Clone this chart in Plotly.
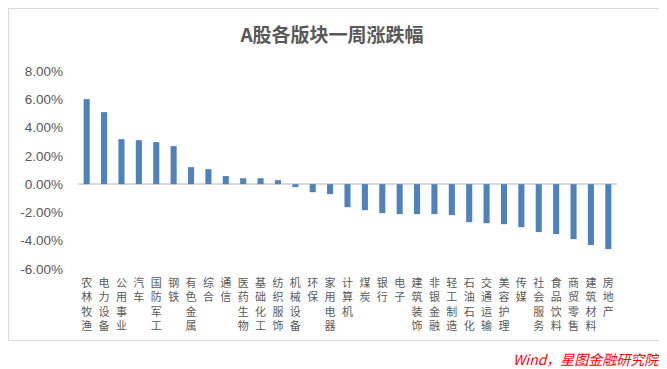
import plotly.graph_objects as go

categories = ["农林牧渔", "电力设备", "公用事业", "汽车", "国防军工", "钢铁", "有色金属", "综合",
              "通信", "医药生物", "基础化工", "纺织服饰", "机械设备", "环保", "家用电器", "计算机",
              "煤炭", "银行", "电子", "建筑装饰", "非银金融", "轻工制造", "石油石化", "交通运输",
              "美容护理", "传媒", "社会服务", "食品饮料", "商贸零售", "建筑材料", "房地产"]
values = [6.01, 5.09, 3.18, 3.11, 2.97, 2.69, 1.20, 1.06, 0.57, 0.42, 0.42, 0.28, -0.21, -0.57,
          -0.71, -1.63, -1.84, -2.05, -2.12, -2.12, -2.12, -2.19, -2.69, -2.76, -2.83, -3.04,
          -3.39, -3.53, -3.89, -4.31, -4.59]
y_ticks = [8, 6, 4, 2, 0, -2, -4, -6]
y_ticktext = ["8.00%", "6.00%", "4.00%", "2.00%", "0.00%", "-2.00%", "-4.00%", "-6.00%"]
title_text = "A股各版块一周涨跌幅"
source_text = "Wind，星图金融研究院"

# the page places the figure 8px from the top-left corner of the window
OFF = 8
W, H = 667 - OFF, 369 - OFF
L, R, T, B = 78 - OFF, 50, 71 - OFF, 100
pw, ph = W - L - R, H - T - B

def px_x(p):
    return (p - OFF - L) / pw

def px_y(p):
    return (H - B - (p - OFF)) / ph

fig = go.Figure()
fig.add_trace(go.Bar(x=categories, y=values, marker=dict(color="#4F81BD", line=dict(width=0))))

fig.update_layout(
    width=W, height=H,
    margin=dict(l=L, r=R, t=T, b=B, autoexpand=False),
    plot_bgcolor="white", paper_bgcolor="white",
    font=dict(family="Liberation Sans, Noto Sans CJK SC", color="#595959"),
    bargap=0.65,
    showlegend=False,
    title=dict(text="<b>" + title_text + "</b>", x=(332 - OFF) / W, xref="container", xanchor="center",
               y=1 - (35 - OFF) / H, yref="container", yanchor="middle",
               font=dict(family="Noto Sans CJK SC", size=19, color="#595959")),
    xaxis=dict(
        tickmode="array", tickvals=categories,
        ticktext=["<br>".join(list(c)) for c in categories],
        tickfont=dict(family="Noto Sans CJK SC", size=11, color="#595959"),
        showgrid=False, showline=False, ticks="", tickangle=0, ticklabelstandoff=6,
        fixedrange=True, automargin=False,
    ),
    yaxis=dict(
        range=[-6, 8], tickmode="array", tickvals=y_ticks, ticktext=y_ticktext,
        tickfont=dict(family="Liberation Sans", size=13.5, color="#595959"),
        showgrid=False, zeroline=True, zerolinecolor="#D9D9D9", zerolinewidth=1.5,
        showline=False, ticks="", ticklabelstandoff=14, automargin=False,
    ),
    shapes=[dict(type="rect", xref="paper", yref="paper",
                 x0=px_x(8.5), x1=px_x(661.5), y0=px_y(340.5), y1=px_y(8.5),
                 line=dict(color="#D9D9D9", width=1), fillcolor="rgba(0,0,0,0)", layer="below")],
    annotations=[dict(text="<i>" + source_text + "</i>", xref="paper", yref="paper",
                      x=px_x(662), y=px_y(359), xanchor="right", yanchor="middle",
                      showarrow=False, font=dict(family="Noto Sans CJK SC", size=14, color="#FF0000"))],
)

fig.write_html("out.html")
